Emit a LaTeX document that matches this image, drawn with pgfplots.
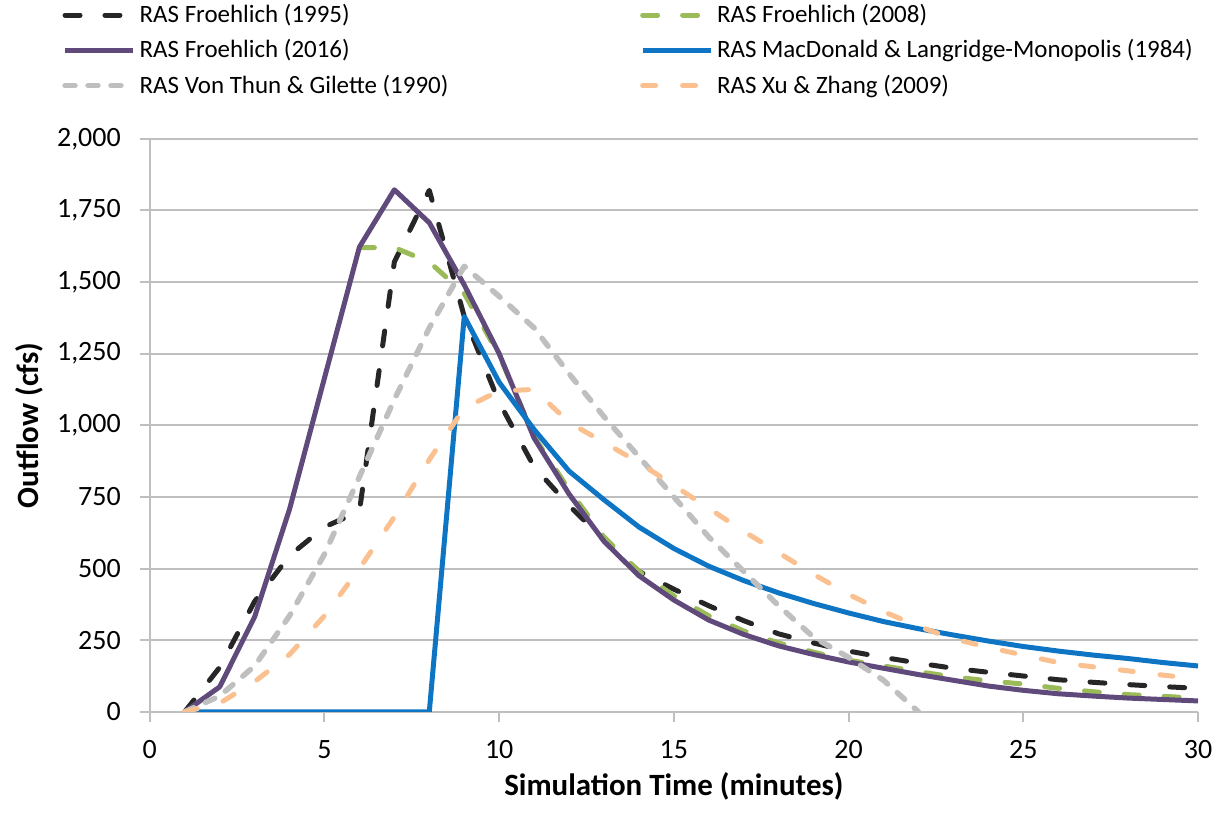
\documentclass[border=0pt]{standalone}
\usepackage{fontspec}
\setmainfont{Carlito}
\usepackage{pgfplots}
\pgfplotsset{compat=1.18}

\definecolor{cA}{HTML}{262626}
\definecolor{cB}{HTML}{9BBB59}
\definecolor{cC}{HTML}{604A7B}
\definecolor{cD}{HTML}{0E75C4}
\definecolor{cE}{HTML}{BFBFBF}
\definecolor{cF}{HTML}{FAC090}
\definecolor{gridc}{HTML}{BFBFBF}

\begin{document}
\begin{tikzpicture}
\begin{axis}[
  scale only axis, width=525pt, height=287pt,
  xmin=0, xmax=30, ymin=0, ymax=2000,
  xtick={0,5,...,30}, ytick={0,250,...,2000},
  axis x line*=bottom, axis y line*=left,
  axis line style={draw=gridc, line width=1pt, -},
  tick style={draw=gridc, line width=1pt}, tick align=outside, major tick length=5pt,
  ymajorgrids, grid style={draw=gridc, line width=1pt},
  tick label style={font=\fontsize{14}{16}\selectfont},
  xticklabel shift=6pt, yticklabel shift=6pt,
  /pgf/number format/assume math mode=true, /pgf/number format/1000 sep={,},
  scaled y ticks=false,
  xlabel={Simulation Time (minutes)}, ylabel={Outflow (cfs)},
  label style={font=\fontsize{15.5}{17}\selectfont\bfseries},
  legend columns=2, legend cell align=left,
  legend style={at={(-0.0838,1.242)}, anchor=north west, draw=none, fill=none,
    inner sep=0pt, font=\fontsize{12.5}{15}\selectfont, row sep=3pt,
    /tikz/every even column/.append style={column sep=94pt}},
  legend image code/.code={\draw[#1] (0pt,0pt) -- (34pt,0pt);},
  every axis plot/.append style={line width=2.5pt, line join=round},
]
\addplot[cA, dash pattern=on 7.5pt off 12.5pt, line cap=round] coordinates {
(1,0) (2,155) (3,385) (4,545) (5,645) (6,700) (7,1570) (8,1820) (9,1380) (10,1080)
(11,855) (12,720) (13,600) (14,490) (15,428) (16,370) (17,318) (18,272) (19,240)
(20,212) (21,190) (22,170) (23,152) (24,138) (25,125) (26,112) (27,103) (28,95) (29,88) (30,82)};
\addlegendentry{RAS Froehlich (1995)}
\addplot[cB, dash pattern=on 7.5pt off 12.5pt, line cap=round] coordinates {
(6,1620) (7,1620) (8,1570) (9,1460) (10,1245) (11,960) (12,775) (13,610) (14,490)
(15,405) (16,335) (17,282) (18,240) (19,208) (20,180) (21,160) (22,140) (23,122)
(24,108) (25,97) (26,82) (27,70) (28,60) (29,54) (30,48)};
\addlegendentry{RAS Froehlich (2008)}
\addplot[cC] coordinates {
(1,0) (2,87) (3,331) (4,707) (5,1165) (6,1622) (7,1822) (8,1707) (9,1490) (10,1250)
(11,955) (12,760) (13,595) (14,475) (15,390) (16,320) (17,270) (18,230) (19,200)
(20,174) (21,152) (22,130) (23,110) (24,90) (25,75) (26,63) (27,55) (28,48) (29,43) (30,38)};
\addlegendentry{RAS Froehlich (2016)}
\addplot[cD] coordinates {
(1,0) (2,0) (3,0) (4,0) (5,0) (6,0) (7,0) (8,0) (9,1380) (10,1150) (11,985) (12,840)
(13,740) (14,645) (15,570) (16,508) (17,458) (18,415) (19,378) (20,345) (21,315)
(22,290) (23,268) (24,247) (25,228) (26,212) (27,198) (28,186) (29,172) (30,160)};
\addlegendentry{RAS MacDonald \& Langridge-Monopolis (1984)}
\addplot[cE, line width=2.75pt, dash pattern=on 5pt off 6.5pt, line cap=round] coordinates {
(1,0) (2,55) (3,160) (4,335) (5,550) (6,820) (7,1090) (8,1340) (9,1555) (10,1450)
(11,1340) (12,1180) (13,1030) (14,890) (15,750) (16,610) (17,490) (18,370) (19,260)
(20,190) (21,110) (22,0)};
\addlegendentry{RAS Von Thun \& Gilette (1990)}
\addplot[cF, dash pattern=on 6.5pt off 13.5pt, line cap=round] coordinates {
(1,0) (2,30) (3,105) (4,200) (5,335) (6,500) (7,680) (8,880) (9,1060) (10,1120)
(11,1125) (12,1010) (13,940) (14,870) (15,790) (16,710) (17,630) (18,555) (19,480)
(20,410) (21,350) (22,298) (23,255) (24,225) (25,198) (26,172) (27,157) (28,143) (29,128) (30,115)};
\addlegendentry{RAS Xu \& Zhang (2009)}
\end{axis}
\pgfresetboundingbox
\path[use as bounding box] ([shift={(-75pt,-54.5pt)}]current axis.south west)
  rectangle ([shift={(9pt,69.5pt)}]current axis.north east);
\end{tikzpicture}
\end{document}
